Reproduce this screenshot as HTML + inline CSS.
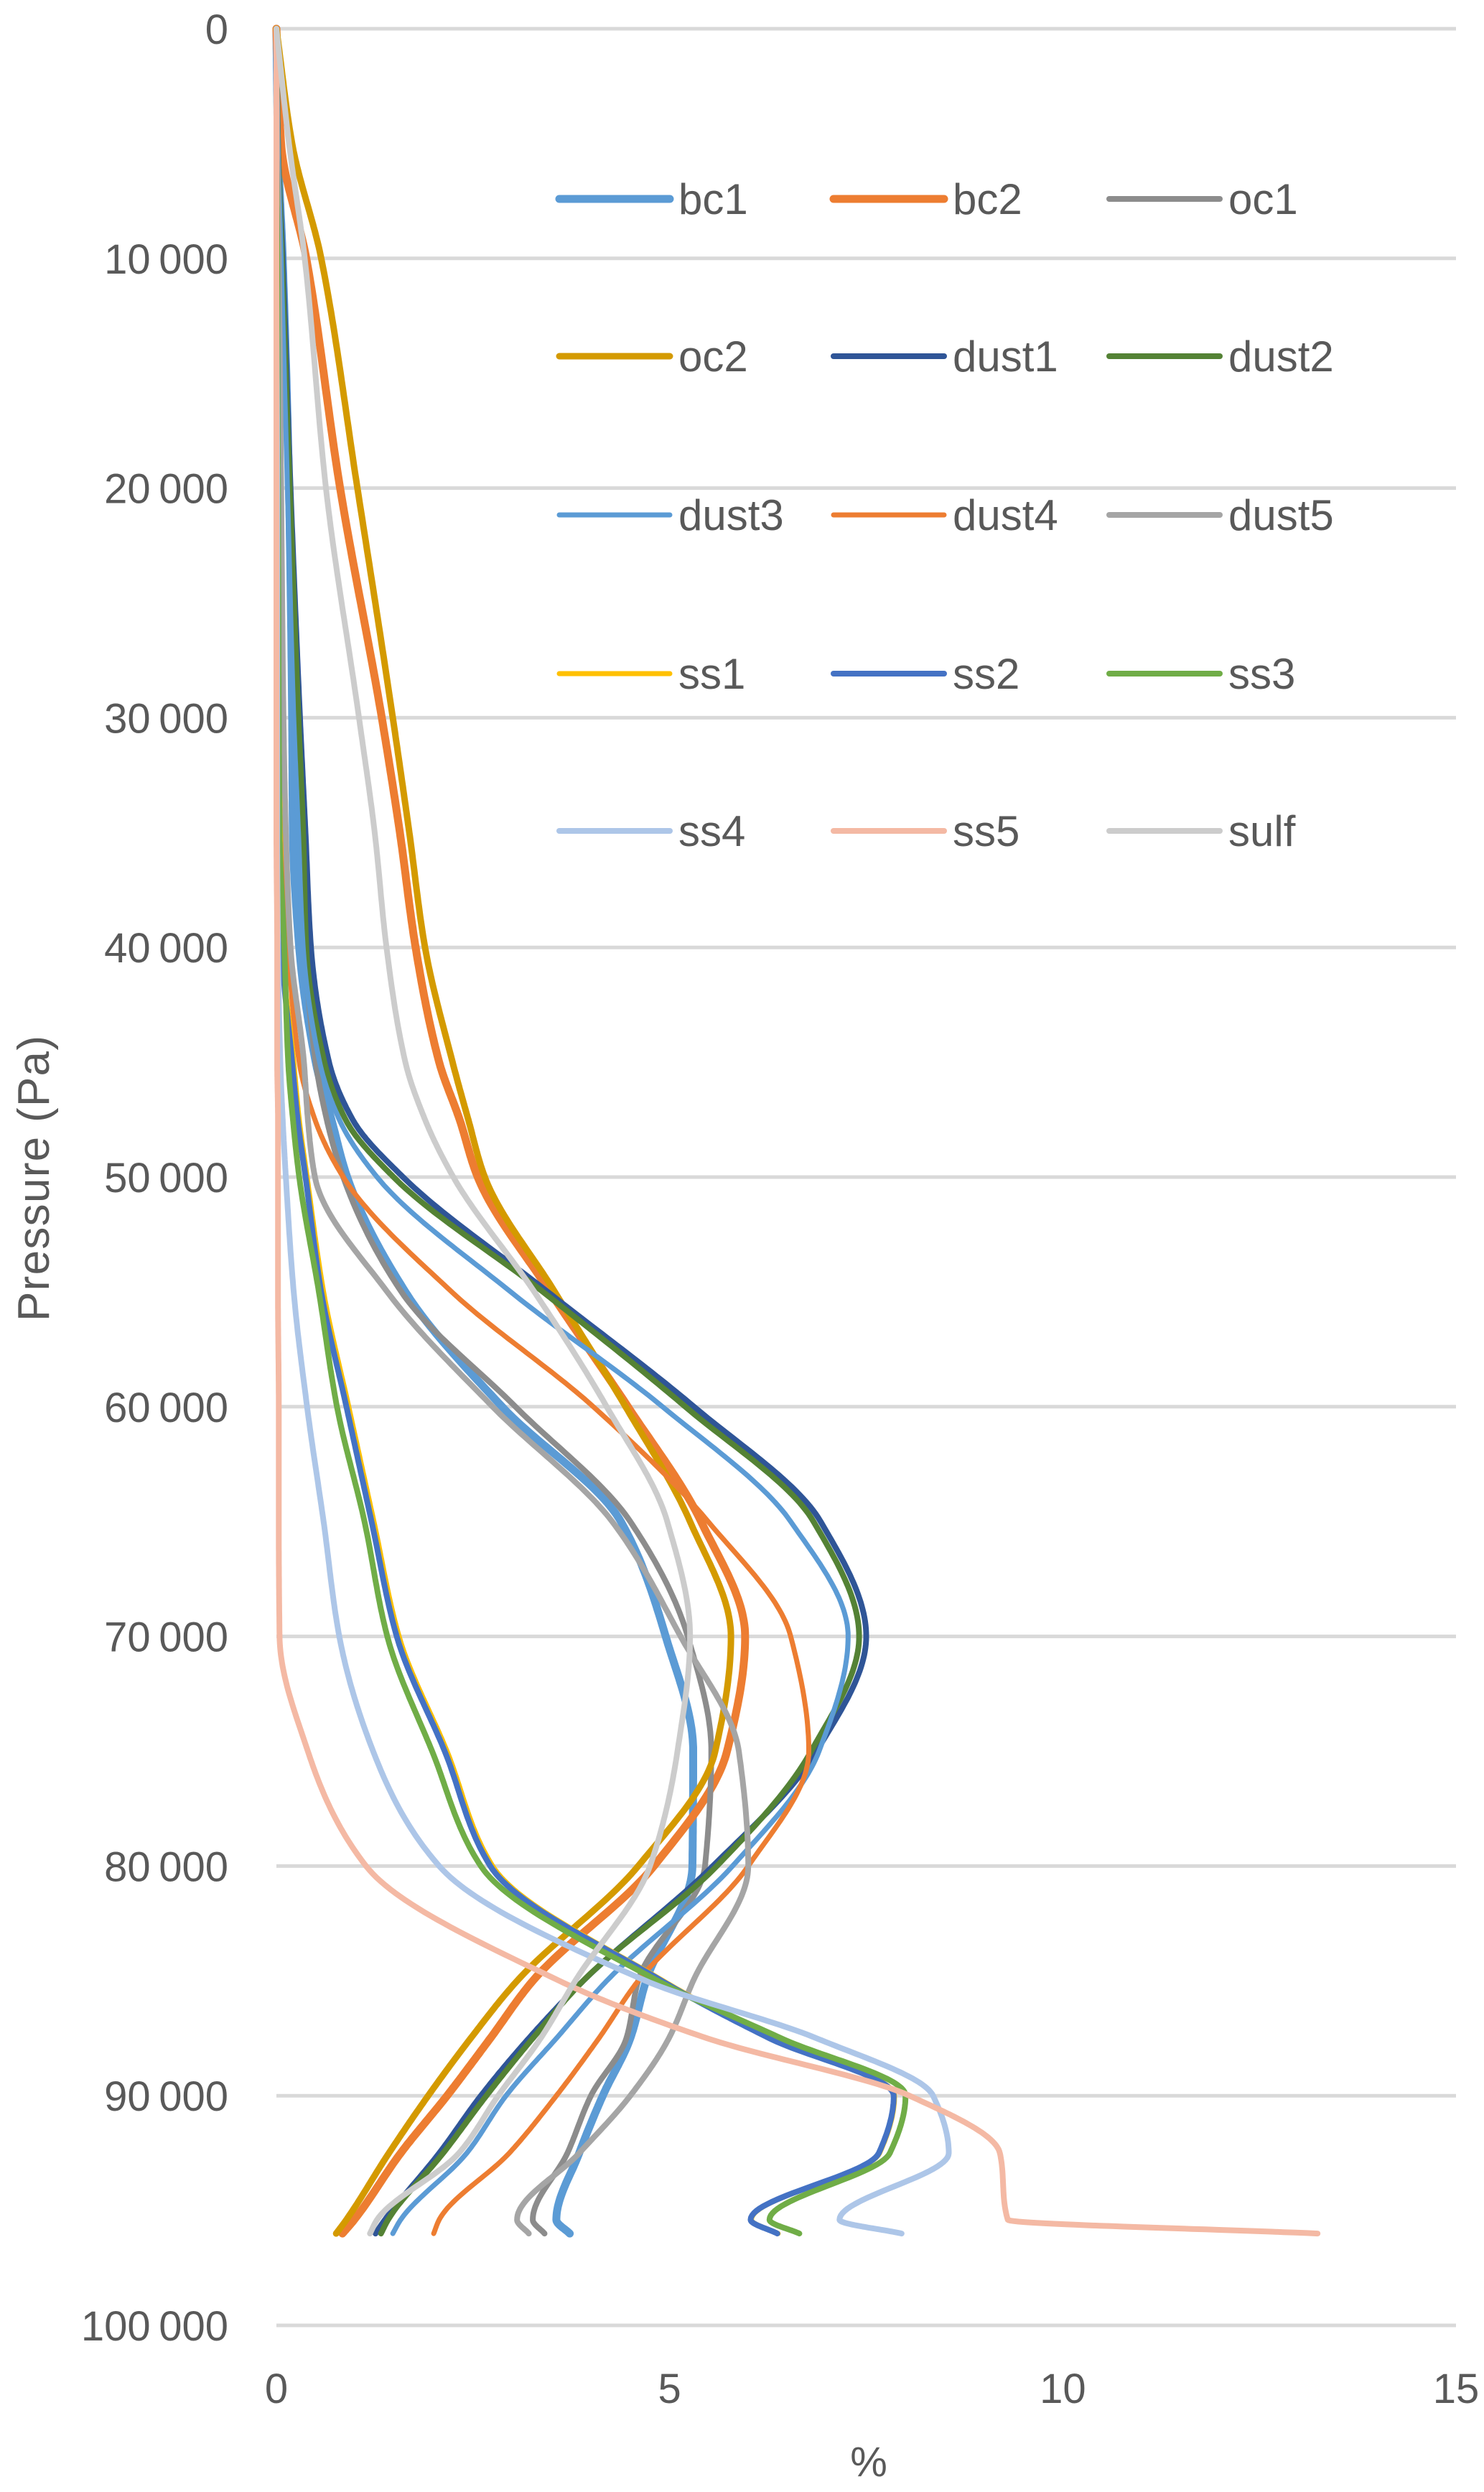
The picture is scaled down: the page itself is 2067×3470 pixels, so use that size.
<!DOCTYPE html>
<html><head><meta charset="utf-8"><style>
html,body{margin:0;padding:0;background:#fff;}
svg{display:block;}
text{font-family:"Liberation Sans",sans-serif;fill:#595959;}
</style></head><body>
<svg id="chart" width="2067" height="3470" viewBox="0 0 2067 3470" xmlns="http://www.w3.org/2000/svg">
<g id="grid"></g>
<g id="yticks"></g>
<g id="xticks"></g>
<g id="series"></g>
<g id="legend"></g>
<text x="0" y="0" font-size="62" text-anchor="middle" textLength="398" transform="translate(68,1641) rotate(-90)">Pressure (Pa)</text>
<text x="1210" y="3448" font-size="58" text-anchor="middle">%</text>
</svg>
<script>
const levels = [0,5000,10000,20000,30000,35000,40000,45000,47500,50000,55000,60000,65000,70000,75000,80000,85000,87500,90000,92500,95400,96000];
const names = ["bc1","bc2","oc1","oc2","dust1","dust2","dust3","dust4","dust5","ss1","ss2","ss3","ss4","ss5","sulf"];
const bc1   = [0,0.02,0.08,0.16,0.20,0.21,0.29,0.50,0.70,0.90,1.64,2.87,4.38,4.95,5.30,5.29,4.70,4.50,4.15,3.85,3.56,3.73];
const bc2   = [0,0.06,0.38,0.81,1.34,1.57,1.77,2.07,2.33,2.56,3.48,4.47,5.40,5.96,5.73,4.80,3.26,2.72,2.17,1.58,0.99,0.84];
const oc1   = [0,0.02,0.08,0.16,0.24,0.30,0.36,0.50,0.64,0.85,1.59,3.04,4.50,5.23,5.53,5.45,4.60,4.45,4.00,3.70,3.26,3.41];
const oc2   = [0,0.20,0.57,1.03,1.48,1.69,1.89,2.24,2.44,2.65,3.54,4.44,5.26,5.78,5.58,4.60,3.06,2.47,1.93,1.43,0.89,0.76];
const dust1 = [0,0.02,0.08,0.18,0.30,0.37,0.44,0.67,0.97,1.61,3.45,5.31,6.92,7.50,6.87,5.55,3.90,3.21,2.60,2.07,1.38,1.26];
const dust2 = [0,0.02,0.07,0.17,0.28,0.34,0.38,0.61,0.88,1.49,3.39,5.20,6.83,7.41,6.80,5.60,3.90,3.26,2.67,2.12,1.42,1.33];
const dust3 = [0,0.02,0.06,0.14,0.22,0.28,0.34,0.55,0.80,1.28,2.98,4.91,6.54,7.27,6.90,5.80,4.20,3.56,2.92,2.42,1.58,1.48];
const dust4 = [0,0.01,0.02,0.04,0.06,0.08,0.15,0.29,0.49,0.85,2.23,4.03,5.49,6.54,6.77,6.00,4.60,4.10,3.56,2.96,2.07,2.00];
const dust5 = [0,0.01,0.03,0.06,0.09,0.12,0.18,0.35,0.40,0.49,1.41,2.75,4.27,5.14,5.88,6.00,5.30,4.99,4.50,3.85,3.06,3.21];
const ss1   = [0,0,0.01,0.02,0.03,0.05,0.08,0.22,0.29,0.39,0.60,0.92,1.24,1.56,2.17,2.75,4.92,6.29,7.86,7.67,6.04,6.38];
const ss2   = [0,0,0.01,0.02,0.03,0.04,0.07,0.20,0.27,0.37,0.57,0.89,1.21,1.53,2.14,2.72,4.90,6.27,7.85,7.66,6.03,6.37];
const ss3   = [0,0,0.01,0.02,0.03,0.04,0.10,0.15,0.21,0.29,0.54,0.77,1.12,1.41,1.98,2.60,4.85,6.42,8.00,7.80,6.27,6.65];
const ss4   = [0,0,0,0.01,0.01,0.01,0.02,0.05,0.08,0.12,0.22,0.39,0.60,0.80,1.23,2.07,4.70,6.87,8.35,8.55,7.16,7.95];
const ss5   = [0,0,0,0,0,0,0.01,0.01,0.02,0.02,0.02,0.03,0.03,0.04,0.40,1.14,3.60,5.48,8.05,9.20,9.30,13.24];
const sulf  = [0,0.16,0.36,0.63,1.05,1.25,1.40,1.64,1.89,2.25,3.28,4.20,4.97,5.26,5.10,4.75,3.80,3.36,2.82,2.32,1.28,1.19];
const yTicks = [0,10000,20000,30000,40000,50000,60000,70000,80000,90000,100000];
const yTickLabels = ["0","10\u2009000","20\u2009000","30\u2009000","40\u2009000","50\u2009000","60\u2009000","70\u2009000","80\u2009000","90\u2009000","100\u2009000"];
const xTicks = [0,5,10,15];
const xTickLabels = ["0","5","10","15"];

const seriesVals = [bc1,bc2,oc1,oc2,dust1,dust2,dust3,dust4,dust5,ss1,ss2,ss3,ss4,ss5,sulf];
const colors = ["#5b9bd5","#ed7d31","#8c8c8c","#d49a00","#2f5597","#548235","#5b9bd5","#ed7d31","#a5a5a5","#ffc000","#4472c4","#70ad47","#adc6e8","#f4b9a4","#cccccc"];
const widths = [11,11,8,9,8,8,7,7,8,7,8,8,8,8,8];

const NS="http://www.w3.org/2000/svg";
const X0=385, X1=2028, Y0=40, Y1=3238;
function xs(v){return X0+(v/15)*(X1-X0);}
function ys(p){return Y0+(p/100000)*(Y1-Y0);}
function mk(tag,attrs,parent){const e=document.createElementNS(NS,tag);for(const k in attrs)e.setAttribute(k,attrs[k]);parent.appendChild(e);return e;}

const grid=document.getElementById('grid');
yTicks.forEach((t,i)=>{
  const l=mk('line',{x1:X0,x2:X1,y1:ys(t),y2:ys(t),stroke:'#d9d9d9','stroke-width':5},grid);
  
  
  const tx=mk('text',{x:318,y:ys(t)+21,'font-size':58,'text-anchor':'end'},document.getElementById('yticks'));
  tx.textContent=yTickLabels[i];
  
  
});
xTicks.forEach((t,i)=>{
  const tx=mk('text',{x:xs(t),y:3346,'font-size':58,'text-anchor':'middle'},document.getElementById('xticks'));
  tx.textContent=xTickLabels[i];
  
  
});

function monotone(xa,ya){
  const n=xa.length,d=[],m=new Array(n);
  for(let i=0;i<n-1;i++)d.push((ya[i+1]-ya[i])/(xa[i+1]-xa[i]));
  m[0]=d[0];m[n-1]=d[n-2];
  for(let i=1;i<n-1;i++){
    if(d[i-1]*d[i]<=0)m[i]=0;
    else{const h0=xa[i]-xa[i-1],h1=xa[i+1]-xa[i];const w1=2*h1+h0,w2=h1+2*h0;m[i]=(w1+w2)/(w1/d[i-1]+w2/d[i]);}
  }
  const pts=[];
  for(let i=0;i<n-1;i++){
    const h=xa[i+1]-xa[i],steps=30;
    for(let s=0;s<steps;s++){
      const t=s/steps,t2=t*t,t3=t2*t;
      const v=(2*t3-3*t2+1)*ya[i]+(t3-2*t2+t)*h*m[i]+(-2*t3+3*t2)*ya[i+1]+(t3-t2)*h*m[i+1];
      pts.push([xa[i]+t*h,v]);
    }
  }
  pts.push([xa[n-1],ya[n-1]]);
  return pts;
}
const sg=document.getElementById('series');
seriesVals.forEach((vals,i)=>{
  const pts=monotone(levels,vals).map(p=>xs(p[1]).toFixed(1)+','+ys(p[0]).toFixed(1)).join(' ');
  const pl=mk('polyline',{points:pts,fill:'none',stroke:colors[i],'stroke-width':widths[i],'stroke-linejoin':'round','stroke-linecap':'round'},sg);
  
  
});
const lg=document.getElementById('legend');
const colX=[779,1161,1545], rowY=[277,496,717,938,1157];
names.forEach((nm,i)=>{
  const c=i%3,r=Math.floor(i/3);
  const g=mk('g',{},lg);
  
  
  mk('line',{x1:colX[c],x2:colX[c]+154,y1:rowY[r],y2:rowY[r],stroke:colors[i],'stroke-width':widths[i],'stroke-linecap':'round'},g);
  const t=mk('text',{x:colX[c]+166,y:rowY[r]+21,'font-size':60},g);
  t.textContent=nm;
});
</script>
</body></html>
